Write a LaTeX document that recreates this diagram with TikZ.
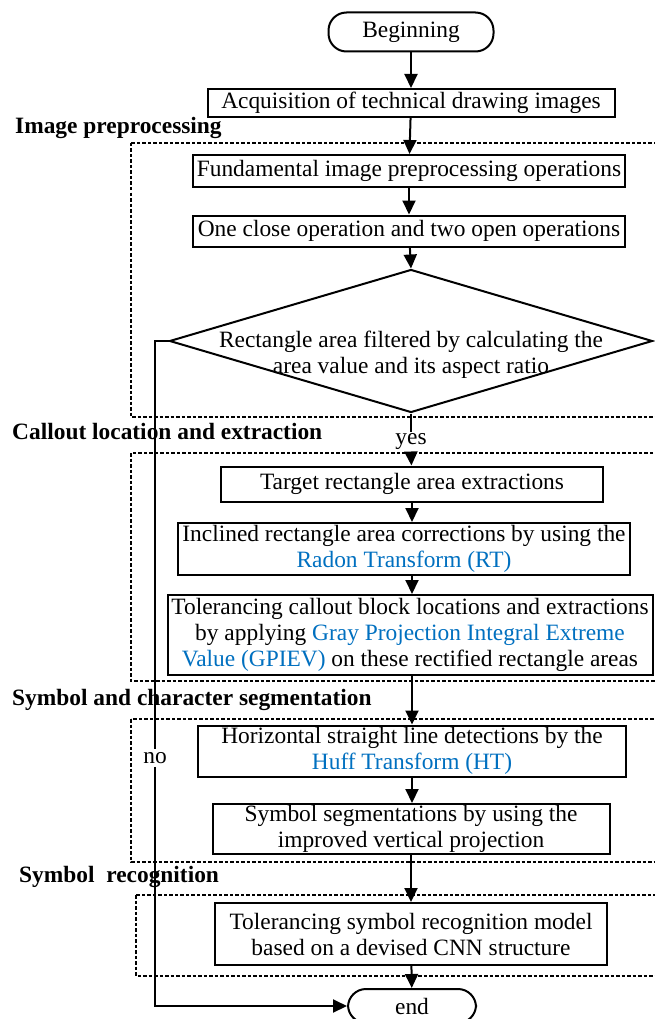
\documentclass[tikz,border=0pt]{standalone}
\usepackage{fontspec}
\setmainfont{Liberation Serif}
\usetikzlibrary{shapes.geometric,arrows.meta}
\definecolor{tfblue}{RGB}{0,112,192}

\begin{document}
\begin{tikzpicture}[x=1pt, y=-1pt,
  every node/.style={font=\fontsize{23.4}{26}\selectfont, inner sep=0pt},
  box/.style={draw, line width=2pt, align=center, fill=white},
  term/.style={draw, line width=2pt, rounded corners=18pt, fill=white},
  group/.style={line width=1.5pt, dash pattern=on 3.5pt off 2pt},
  grouplabel/.style={anchor=west, font=\fontsize{23.4}{26}\selectfont\bfseries},
  flow/.style={line width=2pt, -{Triangle[length=14pt,width=13pt]}},
  plain/.style={line width=2pt}]

\useasboundingbox (0,0) rectangle (655,1019);

% dashed groups
\draw[group] (131,143) rectangle (670,417);
\draw[group] (131,453) rectangle (670,681);
\draw[group] (131,719) rectangle (670,862);
\draw[group] (136,895) rectangle (670,976);

\node[grouplabel] (lab1) at (15,128) {Image preprocessing};
\node[grouplabel] (lab2) at (12,432) {Callout location and extraction};
\node[grouplabel] (lab3) at (12,700) {Symbol and character segmentation};
\node[grouplabel] (lab4) at (19,877) {Symbol~ recognition};

% steps
\node[term, minimum width=165, minimum height=39] (begin) at (411,32) {Beginning};
\node[box, minimum width=407, minimum height=28] (acq) at (411,103) {Acquisition of technical drawing images};
\node[box, minimum width=432, minimum height=32] (fund) at (409,171) {Fundamental image preprocessing operations};
\node[box, minimum width=432, minimum height=31] (close) at (409,231) {One close operation and two open operations};
\node[draw, diamond, line width=2pt, minimum width=483, minimum height=143] (filt) at (411,341) {};
\node[align=center] (filttxt) at (411,355) {Rectangle area filtered by calculating the\\area value and its aspect ratio};
\node[fill=white, inner sep=2pt] (yes) at (411,442) {yes};
\node[box, minimum width=382, minimum height=35] (target) at (412,484) {Target rectangle area extractions};
\node[box, minimum width=452, minimum height=52] (incl) at (404,549) {Inclined rectangle area corrections by using the\\\textcolor{tfblue}{Radon Transform (RT)}};
\node[box, minimum width=485, minimum height=80] (block) at (410,635) {Tolerancing callout block locations and extractions\\by applying \textcolor{tfblue}{Gray Projection Integral Extreme}\\\textcolor{tfblue}{Value (GPIEV)} on these rectified rectangle areas};
\node[box, minimum width=428, minimum height=51] (hline) at (412,751) {Horizontal straight line detections by the\\\textcolor{tfblue}{Huff Transform (HT)}};
\node[box, minimum width=397, minimum height=50] (seg) at (411,829) {Symbol segmentations by using the\\improved vertical projection};
\node[box, minimum width=392, minimum height=62] (recog) at (411,934) {Tolerancing symbol recognition model\\based on a devised CNN structure};
\node[term, minimum width=128, minimum height=34] (end) at (412,1006) {end};
\node[fill=white, inner sep=3pt] (no) at (155,758) {no};

% connectors
\draw[flow] (begin) -- (acq);
\draw[flow] (acq) -- (fund);
\draw[flow] (fund) -- (close);
\draw[flow] (close) -- (filt.north);
\draw[plain] (filt.south) -- (yes.north);
\draw[flow] (yes.south) -- (target);
\draw[flow] (target) -- (incl.north -| target.south);
\draw[flow] (incl.south -| target.south) -- (block.north -| target.south);
\draw[flow] (block.south -| target.south) -- (hline.north -| target.south);
\draw[flow] (hline.south -| target.south) -- (seg.north -| target.south);
\draw[flow] (seg) -- (recog);
\draw[flow] (recog) -- (end);
\draw[plain] (filt.west) -| (no.north);
\draw[flow] (no.south) |- (end.west);

\end{tikzpicture}
\end{document}
